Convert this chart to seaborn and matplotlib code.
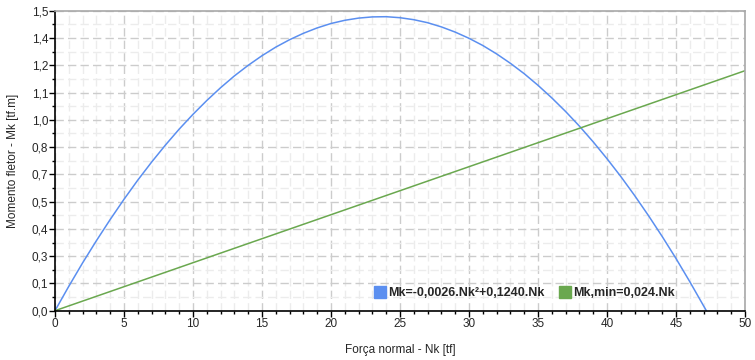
import numpy as np
import pandas as pd
import seaborn as sns
import matplotlib
matplotlib.use("Agg")
import matplotlib.pyplot as plt
from matplotlib.ticker import FixedLocator, FuncFormatter, MultipleLocator

# values
nk_curve = [0, 1, 2, 3, 4, 5, 6, 7, 8, 9, 10, 11, 12, 13, 14, 15, 16, 17, 18, 19,
            20, 21, 22, 23, 24, 25, 26, 27, 28, 29, 30, 31, 32, 33, 34, 35, 36, 37,
            38, 39, 40, 41, 42, 43, 44, 45, 46, 47, 47.2]
mk_curve = [0.0, 0.122, 0.239, 0.350, 0.456, 0.557, 0.653, 0.743, 0.828, 0.908,
            0.982, 1.051, 1.115, 1.174, 1.227, 1.275, 1.318, 1.355, 1.387, 1.414,
            1.436, 1.452, 1.463, 1.469, 1.470, 1.465, 1.455, 1.440, 1.419, 1.393,
            1.362, 1.326, 1.284, 1.237, 1.185, 1.127, 1.064, 0.996, 0.923, 0.844,
            0.760, 0.671, 0.576, 0.476, 0.371, 0.261, 0.145, 0.024, 0.0]
nk_min = [0, 50]
mk_min = [0.0, 1.2]

label_curve = "Mk=-0,0026.Nk²+0,1240.Nk"
label_min = "Mk,min=0,024.Nk"

blue = "#5b8ff0"
green = "#6aa84f"

sns.set_style("white")
plt.rcParams["font.family"] = ["Liberation Sans", "DejaVu Sans"]

df1 = pd.DataFrame({"Nk": nk_curve, "Mk": mk_curve})
df2 = pd.DataFrame({"Nk": nk_min, "Mk": mk_min})

fig = plt.figure(figsize=(7.55, 3.6), dpi=100)
ax = fig.add_axes([55 / 755, 49.3 / 360, 690 / 755, 300 / 360])

sns.lineplot(data=df1, x="Nk", y="Mk", ax=ax, color=blue, lw=1.1, sort=False)
sns.lineplot(data=df2, x="Nk", y="Mk", ax=ax, color=green, lw=1.1, sort=False)

ax.set_xlim(0, 50)
ax.set_ylim(0, 1.5)

ax.xaxis.set_major_locator(MultipleLocator(5))
ax.xaxis.set_minor_locator(MultipleLocator(1))
yt = np.linspace(0, 1.5, 12)
ax.yaxis.set_major_locator(FixedLocator(yt))
ax.yaxis.set_minor_locator(FixedLocator(yt[:-1] + 1.5 / 22))
ax.yaxis.set_major_formatter(FuncFormatter(lambda v, p: f"{v:.1f}".replace(".", ",")))
ax.xaxis.set_major_formatter(FuncFormatter(lambda v, p: f"{v:.0f}"))

ax.grid(which="major", color="#cccccc", linestyle=(0, (6, 3)), lw=1)
ax.grid(which="minor", color="#ececec", linestyle=(0, (6, 3)), lw=1)
ax.set_axisbelow(True)

ax.tick_params(which="major", direction="out", length=4, width=1, color="black",
               labelsize=8.5, pad=1, bottom=True, left=True)
ax.tick_params(which="minor", direction="out", length=2.5, width=1, color="black",
               bottom=True, left=True)

for s in ["left", "bottom"]:
    ax.spines[s].set_color("black")
    ax.spines[s].set_linewidth(1.2)
for s in ["top", "right"]:
    ax.spines[s].set_color("#a8a8a8")
    ax.spines[s].set_linewidth(1.2)

ax.set_xlabel("Força normal - Nk [tf]", fontsize=8.5, labelpad=10)
ax.set_ylabel("Momento fletor - Mk [tf.m]", fontsize=8.5, labelpad=9)

handles = [plt.Line2D([], [], marker="s", color=blue, lw=0, markersize=8),
           plt.Line2D([], [], marker="s", color=green, lw=0, markersize=8)]
ax.legend(handles, [label_curve, label_min], loc="lower right", ncol=2, frameon=False,
          prop={"weight": "bold", "size": 9}, handlelength=0.8, handletextpad=0.3,
          columnspacing=1.2, bbox_to_anchor=(0.915, 0.0))

fig.savefig("out.png", dpi=100)
